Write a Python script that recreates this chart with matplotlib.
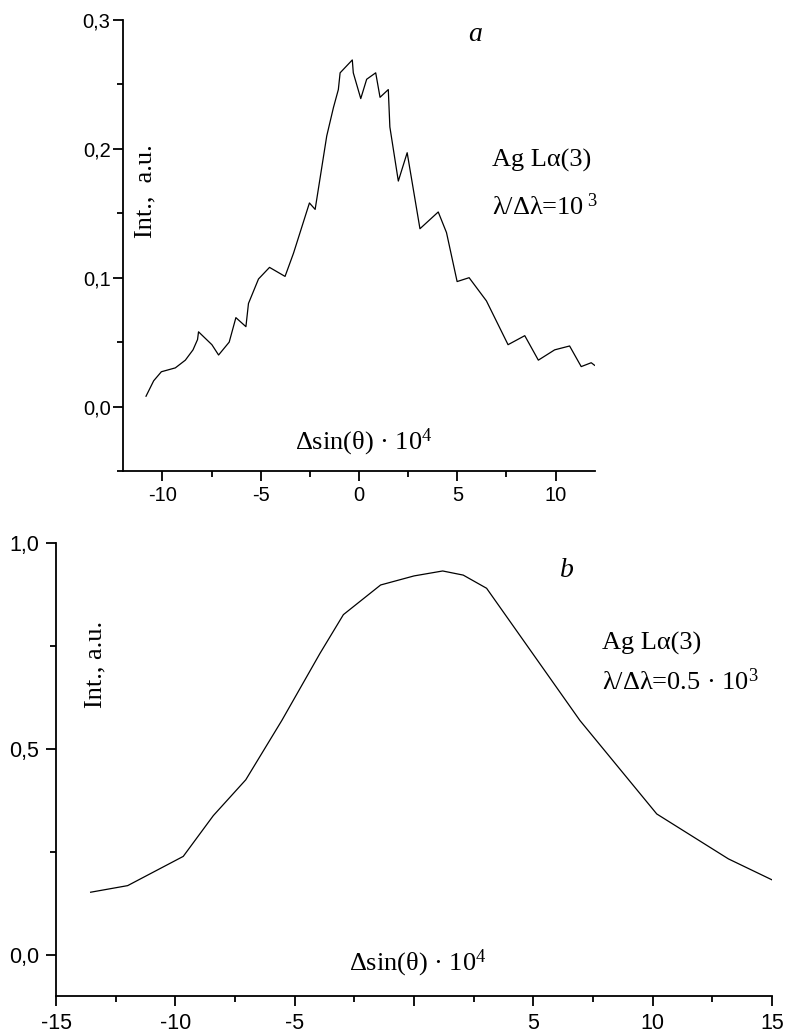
import matplotlib as mpl
import matplotlib.pyplot as plt
from matplotlib.ticker import MultipleLocator, FuncFormatter

mpl.rcParams["font.family"] = ["Liberation Serif", "DejaVu Serif"]
mpl.rcParams["mathtext.fontset"] = "custom"
mpl.rcParams["mathtext.rm"] = "Liberation Serif"
mpl.rcParams["mathtext.it"] = "Liberation Serif:italic"
mpl.rcParams["axes.unicode_minus"] = False

# panel a: Ag La(3), resolution 10^3
a_x = [-10.83, -10.44, -10.05, -9.34, -8.83, -8.44, -8.21, -8.16, -7.48, -7.14,
       -6.60, -6.26, -5.75, -5.62, -5.11, -4.55, -3.76, -3.33, -2.52, -2.23,
       -1.64, -1.30, -1.05, -0.96, -0.34, -0.29, 0.09, 0.39, 0.85, 1.07,
       1.49, 1.57, 2.00, 2.45, 3.10, 4.03, 4.45, 4.99, 5.60, 6.48,
       7.58, 8.43, 9.12, 9.95, 10.71, 11.30, 11.81, 11.98]
a_y = [0.008, 0.020, 0.027, 0.030, 0.036, 0.044, 0.052, 0.058, 0.048, 0.040,
       0.050, 0.069, 0.062, 0.080, 0.099, 0.108, 0.101, 0.119, 0.158, 0.153,
       0.210, 0.232, 0.246, 0.259, 0.269, 0.259, 0.239, 0.254, 0.259, 0.240,
       0.246, 0.217, 0.175, 0.197, 0.138, 0.151, 0.135, 0.097, 0.100, 0.082,
       0.048, 0.055, 0.036, 0.044, 0.047, 0.031, 0.034, 0.032]

# panel b: Ag La(3), resolution 0.5*10^3
b_x = [-13.55, -12.0, -9.67, -8.41, -7.05, -5.54, -3.94, -2.96, -1.40,
       0.0, 1.20, 2.06, 3.04, 6.95, 10.17, 13.17, 15.0]
b_y = [0.152, 0.168, 0.239, 0.338, 0.425, 0.569, 0.732, 0.826, 0.898,
       0.920, 0.932, 0.922, 0.890, 0.569, 0.342, 0.233, 0.182]

comma = FuncFormatter(lambda v, p: f"{v:.1f}".replace(".", ","))
intf = FuncFormatter(lambda v, p: f"{v:.0f}")
# the lower panel leaves the 0 tick unlabelled
intf_no0 = FuncFormatter(lambda v, p: "" if abs(v) < 1e-9 else f"{v:.0f}")


def style_axes(ax, xstep, ystep, tick_size, xfmt):
    ax.spines["top"].set_visible(False)
    ax.spines["right"].set_visible(False)
    for s in ("left", "bottom"):
        ax.spines[s].set_linewidth(1.3)
    ax.xaxis.set_major_locator(MultipleLocator(xstep))
    ax.xaxis.set_minor_locator(MultipleLocator(xstep / 2))
    ax.yaxis.set_major_locator(MultipleLocator(ystep))
    ax.yaxis.set_minor_locator(MultipleLocator(ystep / 2))
    ax.xaxis.set_major_formatter(xfmt)
    ax.yaxis.set_major_formatter(comma)
    ax.tick_params(which="major", direction="out", length=7, width=1.3,
                   labelsize=tick_size, pad=4)
    ax.tick_params(which="minor", direction="out", length=4.5, width=1.3)
    for lab in ax.get_xticklabels() + ax.get_yticklabels():
        lab.set_family("Liberation Sans")


fig = plt.figure(figsize=(7.87, 10.36), dpi=100)

ax1 = fig.add_axes([0.1563, 0.5454, 0.5997, 0.4353])
ax1.plot(a_x, a_y, color="black", linewidth=0.9)
ax1.set_xlim(-12, 12)
ax1.set_ylim(-0.05, 0.3)
style_axes(ax1, 5, 0.1, 14.5, intf)
ax1.tick_params(axis="y", which="major", pad=2)
ax1.text(0.746, 0.967, "a", transform=ax1.transAxes, fontsize=20,
         style="italic", ha="center", va="center")
ax1.text(0.782, 0.676, "Ag Lα(3)", transform=ax1.transAxes, fontsize=19,
         va="baseline")
ax1.text(0.782, 0.568, "λ/Δλ=10$^{\\ 3}$", transform=ax1.transAxes,
         fontsize=19, va="baseline")
ax1.text(0.364, 0.0466, "Δsin(θ) · 10$^{4}$", transform=ax1.transAxes,
         fontsize=19, va="baseline")
ax1.text(0.047, 0.621, "Int.,  a.u.", transform=ax1.transAxes, fontsize=19,
         rotation=90, ha="center", va="center")

ax2 = fig.add_axes([0.0712, 0.0386, 0.9098, 0.4373])
ax2.plot(b_x, b_y, color="black", linewidth=0.9)
ax2.set_xlim(-15, 15)
ax2.set_ylim(-0.1, 1.0)
style_axes(ax2, 5, 0.5, 15.5, intf_no0)
ax2.tick_params(which="major", pad=5)
ax2.text(0.714, 0.940, "b", transform=ax2.transAxes, fontsize=20,
         style="italic", ha="center", va="center")
ax2.text(0.7626, 0.764, "Ag Lα(3)", transform=ax2.transAxes, fontsize=19,
         va="baseline")
ax2.text(0.7626, 0.675, "λ/Δλ=0.5 · 10$^{3}$", transform=ax2.transAxes,
         fontsize=19, va="baseline")
ax2.text(0.409, 0.0574, "Δsin(θ) · 10$^{4}$", transform=ax2.transAxes,
         fontsize=19, va="baseline")
ax2.text(0.0545, 0.731, "Int., a.u.", transform=ax2.transAxes, fontsize=19,
         rotation=90, ha="center", va="center")

fig.savefig("out.png", dpi=100)
